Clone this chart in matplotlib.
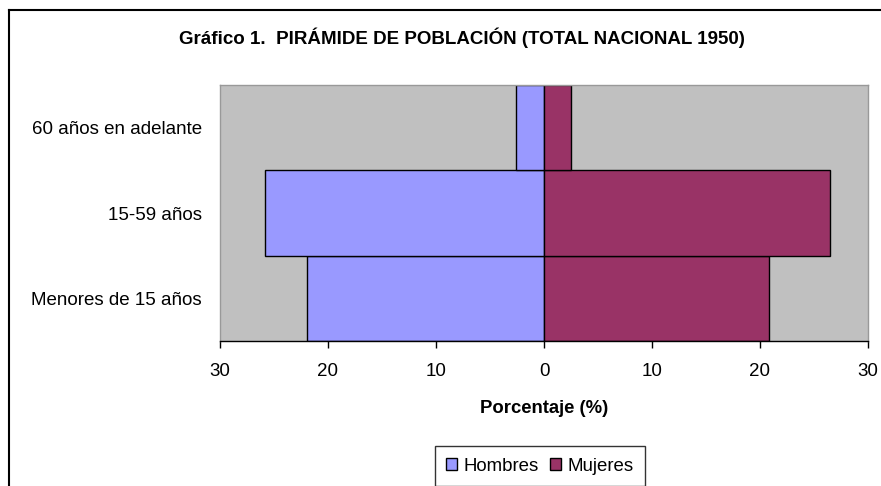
import matplotlib
matplotlib.use("Agg")
import matplotlib.pyplot as plt
from matplotlib.patches import Patch
from matplotlib.lines import Line2D

plt.rcParams['font.family'] = ['Liberation Sans', 'DejaVu Sans']

categories = ["Menores de 15 años", "15-59 años", "60 años en adelante"]
hombres = [21.9, 25.8, 2.6]
mujeres = [20.8, 26.5, 2.5]
xticks = [-30, -20, -10, 0, 10, 20, 30]
xticklabels = ["30", "20", "10", "0", "10", "20", "30"]

W, H = 881, 486
fig = plt.figure(figsize=(W / 100, H / 100), dpi=100)
fig.patch.set_facecolor("white")

# frame lines (left and top visible)
fig.add_artist(Line2D([9 / W, 9 / W], [0, 1 - 10 / H], transform=fig.transFigure, color="black", lw=1.5))
fig.add_artist(Line2D([9 / W, 1], [1 - 10 / H, 1 - 10 / H], transform=fig.transFigure, color="black", lw=1.5))

left, right, top, bottom = 220, 868, 85, 341
ax = fig.add_axes([left / W, 1 - bottom / H, (right - left) / W, (bottom - top) / H])
ax.set_facecolor("#C0C0C0")

y = range(len(categories))
ax.barh(y, [-v for v in hombres], height=1.0, color="#9999FF", edgecolor="black", linewidth=1, label="Hombres")
ax.barh(y, mujeres, height=1.0, color="#993366", edgecolor="black", linewidth=1, label="Mujeres")

ax.set_xlim(-30, 30)
ax.set_ylim(-0.5, len(categories) - 0.5)
ax.set_xticks(xticks)
ax.set_xticklabels(xticklabels, fontsize=13.5)
ax.set_yticks(list(y))
ax.set_yticklabels(categories, fontsize=13.5)
ax.tick_params(axis="y", length=0, pad=13)
ax.tick_params(axis="x", direction="out", length=5, width=1, pad=11)

for s in ["left", "right", "top"]:
    ax.spines[s].set_color("#999999")
    ax.spines[s].set_linewidth(1)
ax.spines["bottom"].set_color("black")
ax.spines["bottom"].set_linewidth(1)

ax.set_xlabel("Porcentaje (%)", fontsize=13.3, fontweight="bold", labelpad=14)

fig.text(462 / W, 1 - 38 / H, "Gráfico 1.  PIRÁMIDE DE POBLACIÓN (TOTAL NACIONAL 1950)",
         ha="center", va="center", fontsize=13.5, fontweight="bold")

handles = [Patch(facecolor="#9999FF", edgecolor="black", label="Hombres"),
           Patch(facecolor="#993366", edgecolor="black", label="Mujeres")]
leg = fig.legend(handles=handles, loc="center", bbox_to_anchor=(540 / W, 1 - 466 / H), ncol=2,
                 fontsize=13.4, frameon=True, fancybox=False, edgecolor="black",
                 handlelength=0.6, handleheight=0.6, handletextpad=0.35, columnspacing=0.6,
                 borderpad=0.6, borderaxespad=0)
leg.get_frame().set_linewidth(1)

fig.savefig("out.png", dpi=100)
